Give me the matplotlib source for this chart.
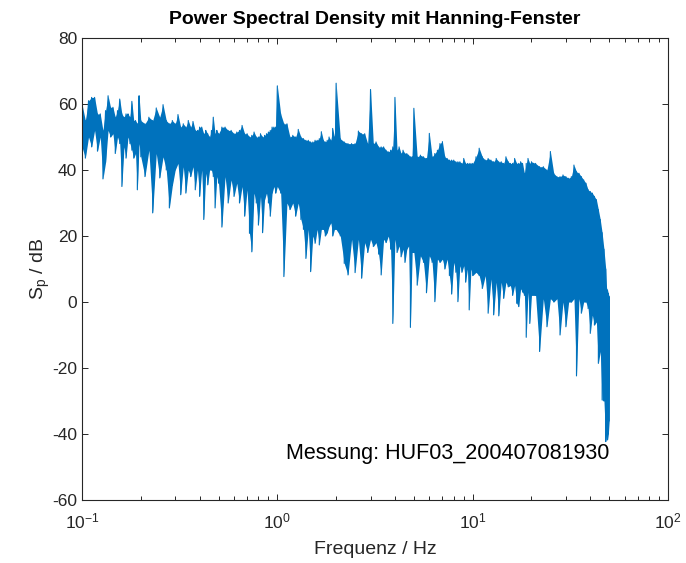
import matplotlib
matplotlib.use('Agg')
import matplotlib.pyplot as plt
import numpy as np

# spectrum, band by band:
# frequency (Hz), upper edge and lower edge of the trace (dB) at each step
f_a = [0.100, 0.104, 0.108, 0.112, 0.116, 0.120, 0.124, 0.128, 0.132, 0.136,
       0.140, 0.144, 0.148, 0.152, 0.156, 0.160, 0.164, 0.168, 0.172, 0.176,
       0.180, 0.184, 0.188, 0.192, 0.196, 0.200]
top_a = [60, 55, 61, 62, 62, 57, 57, 52, 58, 62.5,
         59, 59, 56, 58, 61.5, 57, 56, 57, 57, 56,
         60.8, 55, 55, 54, 62.5, 55]
bot_a = [47, 43.6, 50, 47, 52, 45.7, 50, 37.3, 42.3, 52,
         50, 51, 45, 50, 48, 35, 47, 43.6, 50, 48,
         46, 43.6, 45, 34, 48, 44]

f_b = [0.21, 0.22, 0.23, 0.24, 0.25, 0.26, 0.27, 0.28, 0.29, 0.30,
       0.31, 0.32, 0.33, 0.34, 0.35, 0.36, 0.37, 0.38, 0.39, 0.40,
       0.41, 0.42, 0.43, 0.44, 0.45, 0.46, 0.47, 0.48, 0.49, 0.50]
top_b = [54, 56, 55, 58.8, 56, 59.8, 55, 54, 55, 54,
         56.8, 53, 54, 53, 55, 53, 54.7, 52, 52, 53,
         53, 51, 52, 51, 50, 52, 56, 51, 52, 51]
bot_b = [38, 46, 27, 45, 37.6, 44, 40, 28.5, 35.3, 40,
         42, 32.5, 41, 33, 40, 38, 41, 34, 40, 32,
         40, 25, 39, 35.5, 40, 40, 38, 28.5, 38, 36]

f_c = [0.52, 0.54, 0.56, 0.58, 0.60, 0.62, 0.64, 0.66, 0.68, 0.70,
       0.72, 0.74, 0.76, 0.78, 0.80, 0.82, 0.84, 0.86, 0.88, 0.90,
       0.92, 0.94, 0.96, 0.98, 1.00]
top_c = [53, 53, 52, 52, 51, 51.5, 52, 53.5, 51, 51,
         50, 50.5, 51.5, 50, 50, 51, 50, 50.5, 51, 51.5,
         52, 53, 53, 53, 65.5]
bot_c = [22.7, 38, 30, 37, 32, 36, 30, 35, 26, 34,
         20.8, 15.2, 33, 30, 23.3, 32, 21, 31, 33, 30,
         26, 33, 35, 33, 35]

f_d = [1.04, 1.08, 1.12, 1.16, 1.20, 1.24, 1.28, 1.32, 1.36, 1.40,
       1.44, 1.48, 1.52, 1.56, 1.60, 1.64, 1.68, 1.72, 1.76, 1.80,
       1.84, 1.88, 1.92, 1.96, 2.00]
top_d = [57, 54, 54, 50, 50.5, 50, 52.3, 50, 49.5, 49,
         49, 48.5, 48.5, 49, 49, 49.5, 51.6, 49, 48.5, 49,
         50, 49, 52.6, 50, 66.3]
bot_d = [33, 7.7, 30, 28, 30, 26, 30, 25, 22, 13.2,
         22, 9.2, 20, 17.8, 22, 17.3, 22, 22, 20, 21,
         23, 24, 20, 22, 22]

f_e = [2.1, 2.2, 2.3, 2.4, 2.5, 2.6, 2.7, 2.8, 2.9, 3.0,
       3.1, 3.2, 3.3, 3.4, 3.5, 3.6, 3.7, 3.8, 3.9, 4.0,
       4.1, 4.2, 4.3, 4.4, 4.5, 4.6, 4.7, 4.8, 4.9, 5.0]
top_e = [49.5, 48.5, 48, 48, 48, 51.8, 51, 51, 48, 64.4,
         48, 48.5, 47, 47, 47, 46, 45.5, 46, 47, 62,
         46, 47, 45, 46, 45, 45, 44.5, 44, 44, 58.7]
bot_e = [20, 11.7, 8.2, 19, 8.9, 19, 7.2, 18, 15, 19,
         16.8, 18, 14.5, 8.2, 19, 18, 20, 16, -6.5, 19,
         15, 17, 13.7, 16, 12, 16, 17, -7.7, 15, 15]

f_f = [5.2, 5.4, 5.6, 5.8, 6.0, 6.2, 6.4, 6.6, 6.8, 7.0,
       7.2, 7.4, 7.6, 7.8, 8.0, 8.2, 8.4, 8.6, 8.8, 9.0,
       9.2, 9.4, 9.6, 9.8, 10.0]
top_f = [44, 44.5, 44, 43.5, 51.1, 44, 45, 46, 48, 48.6,
         44, 43.5, 43, 43, 43, 42.5, 42.5, 42.5, 42, 43.5,
         42, 42, 42, 42, 42]
bot_f = [5.1, 14, 12, 2.8, 14, 12, 0.1, 13, 12, 13,
         10, 13, 8, 2.4, 12, 9, 0.1, 11, 9, 11,
         6, 10, -2.4, 10, 8]

f_g = [10.4, 10.8, 11.2, 11.6, 12.0, 12.4, 12.8, 13.2, 13.6, 14.0,
       14.4, 14.8, 15.2, 15.6, 16.0, 16.4, 16.8, 17.2, 17.6, 18.0,
       18.4, 18.8, 19.2, 19.6, 20.0]
top_g = [44, 46.6, 44, 43, 43.5, 43, 42.5, 43.5, 42.5, 42.5,
         42, 44, 42.5, 42, 42, 43.5, 42, 42, 42.5, 42,
         39, 42, 43.5, 42, 42.5]
bot_g = [9, 8, 4.1, 8, -3.4, 7, -3.9, 6, -4.2, 6,
         1.1, 6, 4.6, 5, 2, 5, -0.4, -1.4, 4, 3,
         2, -10.7, 3, -6.5, 2]

f_h = [21, 22, 23, 24, 25, 26, 27, 28, 29, 30,
       31, 32, 33, 34, 35, 36, 37, 38, 39, 40,
       41, 42, 43, 44, 45, 46, 47, 48, 48.5, 49, 49.5, 50]
top_h = [42, 41, 41, 40, 45.6, 39, 38, 38, 38.5, 38,
         37.5, 38, 41.5, 39.5, 39, 38, 37, 36, 34, 33.5,
         33, 32, 31, 28, 25, 21, 16, 10, 4, 3.6, 2.6, 1.6]
bot_h = [2, -15, 1, -7.5, 1, 0, 1, -10, 0, -7.5,
         0, 0, 1, -22.4, 1, -3.4, 0, 0, -2, -9.5,
         -4, -7, -6, -18.6, -15, -29.7, -30, -42.3, -40, -41.8, -40, -36]

freq = np.concatenate([f_a, f_b, f_c, f_d, f_e, f_f, f_g, f_h])
top = np.concatenate([top_a, top_b, top_c, top_d, top_e, top_f, top_g, top_h])
bot = np.concatenate([bot_a, bot_b, bot_c, bot_d, bot_e, bot_f, bot_g, bot_h])

plt.rcParams['font.family'] = ['Liberation Sans', 'DejaVu Sans']
plt.rcParams['mathtext.fontset'] = 'custom'
plt.rcParams['mathtext.rm'] = 'Liberation Sans'
plt.rcParams['mathtext.it'] = 'Liberation Sans:italic'
plt.rcParams['axes.unicode_minus'] = False

dark = '#262626'
blue = '#0072BD'

fig = plt.figure(figsize=(6.86, 5.63), dpi=100)
ax = fig.add_axes([82 / 686, 63 / 563, 586 / 686, 462 / 563])

# min/max trace: solid band plus the up-down zigzag for the spikes
ax.fill_between(freq, bot, top, color=blue, lw=0)
zig_f = np.repeat(freq, 2)
zig_db = np.column_stack([top, bot]).ravel()
ax.plot(zig_f, zig_db, color=blue, lw=0.8)

ax.set_xscale('log')
ax.set_xlim(0.1, 100)
ax.set_ylim(-60, 80)
ax.set_yticks(np.arange(-60, 81, 20))

ax.tick_params(which='both', direction='in', top=True, right=True,
               colors=dark, labelsize=12.5, width=0.7)
ax.tick_params(which='major', length=4.5)
ax.tick_params(which='minor', length=2.8)
ax.tick_params(axis='x', pad=8)
for s in ax.spines.values():
    s.set_color(dark)
    s.set_linewidth(0.8)

ax.set_title('Power Spectral Density mit Hanning-Fenster',
             fontsize=14, fontweight='bold', color='black', pad=10)
ax.set_xlabel('Frequenz / Hz', fontsize=14, color=dark, labelpad=7)
ax.set_ylabel(r'S$_\mathrm{p}$ / dB', fontsize=14, color=dark, labelpad=0)

ax.text(0.6246, 0.0996, 'Messung: HUF03_200407081930', transform=ax.transAxes,
        ha='center', va='center', fontsize=15.5, color='black')

fig.savefig('out.png', dpi=100)
